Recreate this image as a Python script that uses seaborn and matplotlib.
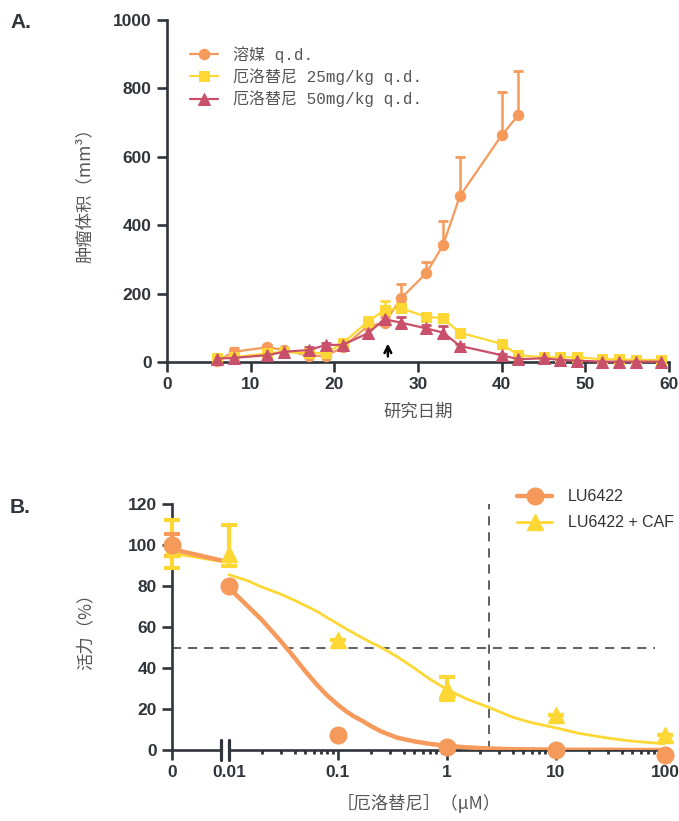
import numpy as np
import matplotlib
matplotlib.use("Agg")
import matplotlib.pyplot as plt
import matplotlib.transforms as mtransforms
from matplotlib.lines import Line2D
from matplotlib.ticker import FixedLocator
import seaborn as sns

# ---- A. tumour volume (mm3) over the study ----
days = [6, 8, 12, 14, 17, 19, 21, 24, 26, 28, 31, 33, 35, 40, 42, 45, 47, 49, 52, 54, 56, 59]
vehicle_days = [6, 8, 12, 14, 17, 19, 21, 24, 26, 28, 31, 33, 35, 40, 42]
vehicle_vol = [3, 30, 43, 35, 18, 18, 43, 105, 114, 187, 260, 342, 485, 663, 722]
vehicle_err = [4, 12, 8, 6, 8, 6, 6, 12, 18, 41, 32, 70, 115, 126, 128]
erlo25_vol = [11, 14, 25, 30, 25, 27, 55, 118, 152, 157, 132, 128, 86, 53, 20, 14, 14, 14, 8, 8, 6, 6]
erlo25_err = [3, 4, 5, 6, 5, 6, 8, 15, 27, 15, 10, 6, 6, 5, 4, 3, 3, 3, 2, 2, 2, 2]
erlo50_vol = [10, 12, 20, 30, 35, 50, 50, 84, 125, 115, 98, 86, 47, 20, 8, 11, 6, 4, 1, 1, 1, 1]
erlo50_err = [3, 3, 5, 6, 10, 6, 6, 30, 35, 17, 10, 19, 5, 4, 2, 2, 2, 1, 1, 1, 1, 1]
dose_day = 26.4

# ---- B. viability vs erlotinib concentration (uM) ----
conc = [0, 0.01, 0.1, 1, 10, 100]
lu_viab = [100, 80, 7.3, 1.5, 0, -2.5]
lu_err_lo = [5.5, 0, 0, 0, 0, 0]
lu_err_hi = [5.5, 0, 0, 0, 0, 0]
caf_viab = [98, 95.5, 53.5, 30, 17, 7.5]
caf_err_lo = [9, 5.5, 0, 5.5, 0, 0]
caf_err_hi = [14, 14.5, 0, 5.5, 0, 0]

# fitted curves (left of the axis break, then right of it)
fit_left_x = [0, 0.0086]
lu_fit_left = [98, 92.5]
caf_fit_left = [96, 92]
fit_x = [0.01, 0.015, 0.02, 0.03, 0.04, 0.05, 0.065, 0.08, 0.1, 0.12, 0.14, 0.17, 0.2,
         0.25, 0.35, 0.5, 0.7, 1, 1.5, 2.5, 4, 6, 10, 16, 30, 50, 100]
lu_fit = [79, 70, 63.5, 53, 45, 38.5, 31.5, 26.5, 22, 18.7, 16.4, 14, 11.7,
          9, 6, 4.2, 3, 2, 1.3, 0.7, 0.4, 0.3, 0.2, 0.1, 0.1, 0, 0]
caf_fit = [85.5, 82.5, 79.5, 76, 73, 70.5, 67.5, 64.5, 61.5, 59, 57, 54.5, 52.5,
           50, 45.5, 40, 34.5, 29.5, 25, 20.5, 16, 13.3, 10.8, 8.2, 5.8, 4.3, 3]
half_effect = 50
ic50_line = 2.45
break_lo, break_hi = 0.0086, 0.01

ORANGE = "#F59A5B"
YELLOW = "#FDD835"
RED = "#C9506A"
AXIS = "#30343b"
GREY = "#555555"
CJK = ["Noto Sans CJK SC", "DejaVu Sans"]

sns.set_theme(style="ticks")
plt.rcParams["font.family"] = ["Liberation Sans", "Noto Sans CJK SC", "DejaVu Sans"]
plt.rcParams["axes.edgecolor"] = AXIS
plt.rcParams["axes.linewidth"] = 1.9

fig = plt.figure(figsize=(6.79, 8.21), dpi=100)
axA = fig.add_axes([167 / 679, 1 - 362 / 821, 502 / 679, 342 / 821])
axB = fig.add_axes([172 / 679, 1 - 750 / 821, 493 / 679, 246 / 821])

# ---------------- panel A ----------------
groups = [
    ("溶媒 q.d.", vehicle_days, vehicle_vol, vehicle_err, ORANGE, "o", 7.5),
    ("厄洛替尼 25mg/kg q.d.", days, erlo25_vol, erlo25_err, YELLOW, "s", 7),
    ("厄洛替尼 50mg/kg q.d.", days, erlo50_vol, erlo50_err, RED, "^", 8),
]
for label, x, y, err, color, marker, ms in groups:
    eb = axA.errorbar(x, y, yerr=[np.zeros(len(err)), err], fmt="none", ecolor=color,
                      elinewidth=1.8, capsize=3.5, capthick=2, zorder=2)
    eb.lines[1][0].set_visible(False)  # only the upper half of the bars
    sns.lineplot(x=x, y=y, ax=axA, color=color, marker=marker, markersize=ms,
                 markeredgecolor=color, linewidth=1.6, label=label, clip_on=False, zorder=3)

axA.annotate("", xy=(dose_day, 62), xytext=(dose_day, 8),
             arrowprops=dict(arrowstyle="->", color="black", lw=1.8, mutation_scale=12))

axA.set_xlim(0, 60)
axA.set_ylim(0, 1000)
axA.set_xticks(range(0, 61, 10), [str(v) for v in range(0, 61, 10)])
axA.set_yticks(range(0, 1001, 200), [str(v) for v in range(0, 1001, 200)])
axA.set_xlabel("研究日期", family=CJK, fontsize=12.5, color=GREY)
axA.set_ylabel("肿瘤体积（mm³）", family=CJK, fontsize=12.5, color=GREY)
axA.xaxis.set_label_coords(0.5, -0.12)
axA.yaxis.set_label_coords(-0.145, 0.5)
axA.legend(loc="upper left", bbox_to_anchor=(0.045, 0.925), frameon=False,
           prop=dict(family=["Liberation Mono", "Noto Sans CJK SC"], size=11.5),
           labelcolor=GREY, handlelength=1.8, handletextpad=0.9, labelspacing=0.35,
           borderpad=0, borderaxespad=0)

# ---------------- panel B ----------------
sns.lineplot(x=fit_left_x, y=caf_fit_left, ax=axB, color=YELLOW, linewidth=2, zorder=2)
sns.lineplot(x=fit_x, y=caf_fit, ax=axB, color=YELLOW, linewidth=2, zorder=2)
sns.lineplot(x=fit_left_x, y=lu_fit_left, ax=axB, color=ORANGE, linewidth=3.2, zorder=2.5)
sns.lineplot(x=fit_x, y=lu_fit, ax=axB, color=ORANGE, linewidth=3.2, zorder=2.5)

for y, lo, hi, color, marker in [(caf_viab, caf_err_lo, caf_err_hi, YELLOW, "^"),
                                 (lu_viab, lu_err_lo, lu_err_hi, ORANGE, "o")]:
    eb = axB.errorbar(conc, y, yerr=[lo, hi], fmt=marker, color=color, markersize=12,
                      markeredgecolor=color, elinewidth=3, capsize=5.5, capthick=3, zorder=3)
    data_line, caps, bars = eb.lines
    for art in [data_line, *caps, *bars]:
        art.set_clip_on(False)

axB.axhline(half_effect, xmin=0, xmax=0.98, color=AXIS, lw=1.1, dashes=(6, 4.5), zorder=1)
axB.axvline(ic50_line, color=AXIS, lw=1.1, dashes=(6, 4.5), zorder=1)

axB.set_xscale("symlog", linthresh=0.01, linscale=0.47)
axB.set_xlim(0, 100)
axB.set_ylim(0, 120)
axB.set_xticks(conc, ["0", "0.01", "0.1", "1", "10", "100"])
axB.xaxis.set_minor_locator(FixedLocator([k * 10.0 ** e for e in range(-2, 2) for k in range(2, 10)]))
axB.set_yticks(range(0, 121, 20), [str(v) for v in range(0, 121, 20)])

# broken x axis
axB.spines["bottom"].set_visible(False)
trans = mtransforms.blended_transform_factory(axB.transData, axB.transAxes)
axB.plot([0, break_lo], [0, 0], transform=trans, color=AXIS, lw=1.9, clip_on=False,
         solid_capstyle="butt")
axB.plot([break_hi, 100], [0, 0], transform=trans, color=AXIS, lw=1.9, clip_on=False,
         solid_capstyle="butt")
for xb in (break_lo, break_hi):
    axB.plot([xb, xb], [-0.041, 0.041], transform=trans, color=AXIS, lw=2.3, clip_on=False)

axB.set_xlabel("［厄洛替尼］（μM）", family=CJK, fontsize=12.5, color=GREY)
axB.set_ylabel("活力（%）", family=CJK, fontsize=12.5, color=GREY)
axB.xaxis.set_label_coords(0.5, -0.18)
axB.yaxis.set_label_coords(-0.156, 0.5)

handles = [Line2D([], [], color=ORANGE, lw=3.2, marker="o", ms=12),
           Line2D([], [], color=YELLOW, lw=2, marker="^", ms=12)]
axB.legend(handles, ["LU6422", "LU6422 + CAF"], loc="upper left",
           bbox_to_anchor=(0.70, 1.06), frameon=False, fontsize=11.5, labelcolor="#333333",
           handlelength=2.2, handletextpad=1.0, labelspacing=0.7, borderpad=0, borderaxespad=0)

# shared styling
for ax in (axA, axB):
    sns.despine(ax=ax)
    ax.tick_params(which="major", direction="out", length=7, width=1.9, color=AXIS,
                   labelsize=12.5, labelcolor=AXIS, pad=4)
    for lab in ax.get_xticklabels() + ax.get_yticklabels():
        lab.set_fontweight("bold")
axB.tick_params(which="minor", direction="out", length=3, width=2, color=AXIS)
axB.spines["bottom"].set_visible(False)

fig.text(10 / 679, 1 - 13 / 821, "A.", fontsize=15, fontweight="bold", color=AXIS, va="top")
fig.text(10 / 679, 1 - 498 / 821, "B.", fontsize=15, fontweight="bold", color=AXIS, va="top")

fig.savefig("out.png", dpi=100)
